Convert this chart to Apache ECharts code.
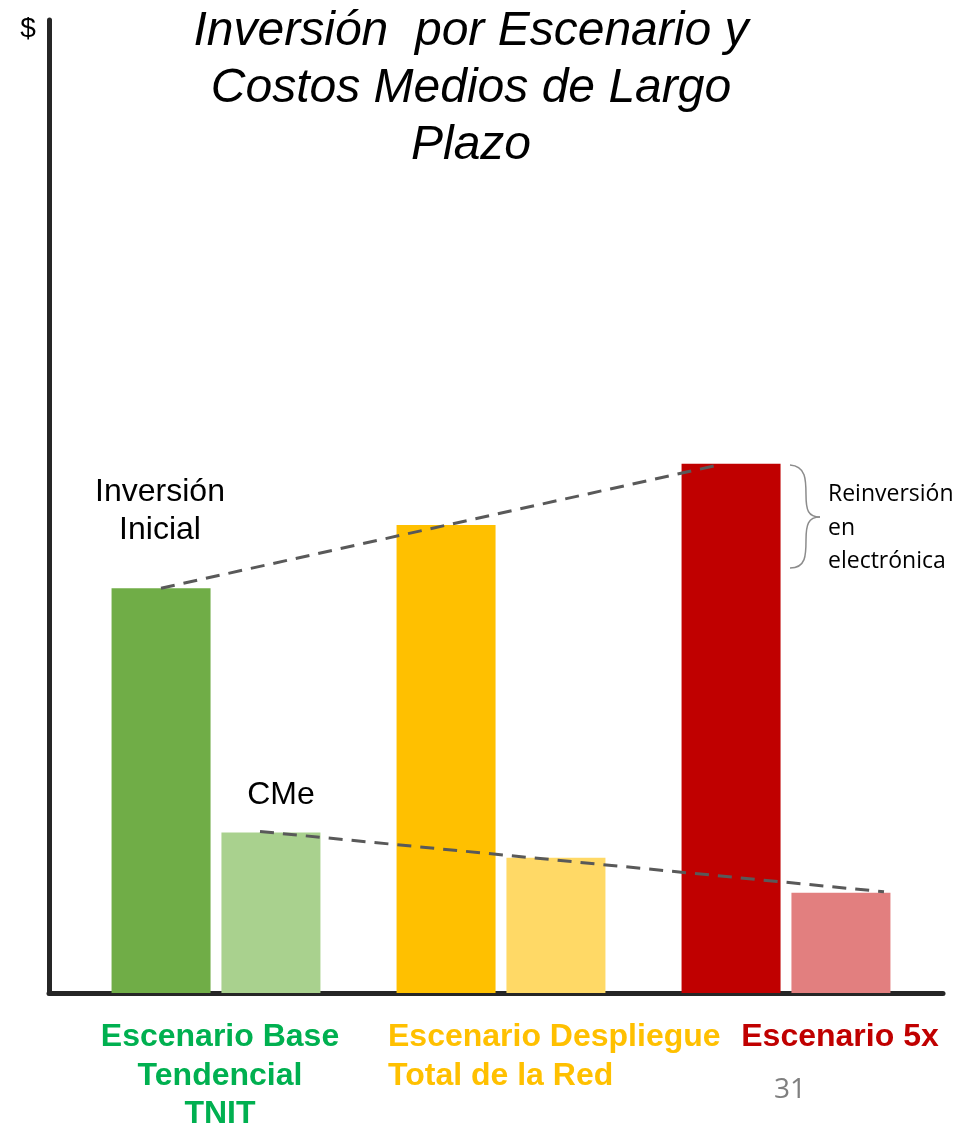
<!DOCTYPE html>
<html>
<head>
<meta charset="utf-8">
<script src="https://cdn.jsdelivr.net/npm/echarts@6/dist/echarts.min.js"></script>
<style>
html,body{margin:0;padding:0;background:#fff;}
#chart{width:963px;height:1125px;}
</style>
</head>
<body>
<div id="chart"></div>
<script>
// datos (unidades relativas, eje 0-10)
const scenarios=['Escenario Base\nTendencial\nTNIT','Escenario Despliegue\nTotal de la Red','Escenario 5x'];
const inversion=[4.16,4.81,5.44];
const cme=[1.65,1.39,1.03];
const darkColors=['#70AD47','#FFC000','#C00000'];
const lightColors=['#A9D18E','#FFD966','#E27F7F'];
const labelColors=['#00B050','#FFC000','#C00000'];
const yMax=10;

const chart=echarts.init(document.getElementById('chart'));
const FONT='"Liberation Sans", Arial, sans-serif';

chart.setOption({
    backgroundColor:'#fff',
    animation:false,
    grid:[
        {left:49,right:20,top:20,bottom:132},      // ejes dibujados
        {left:73.5,right:34.5,top:20,bottom:132}   // barras
    ],
    xAxis:[
        {gridIndex:0,type:'value',min:0,max:1,axisLine:{show:true,lineStyle:{color:'#262626',width:5}},axisTick:{show:false},axisLabel:{show:false},splitLine:{show:false}},
        {gridIndex:1,type:'category',data:scenarios,axisLine:{show:false},axisTick:{show:false},axisLabel:{show:false}}
    ],
    yAxis:[
        {gridIndex:0,type:'value',min:0,max:yMax,axisLine:{show:true,lineStyle:{color:'#262626',width:5}},axisTick:{show:false},axisLabel:{show:false},splitLine:{show:false}},
        {gridIndex:1,type:'value',min:0,max:yMax,show:false,splitLine:{show:false}}
    ],
    series:[
        {name:'Inversión Inicial',type:'bar',xAxisIndex:1,yAxisIndex:1,barWidth:99,barGap:'11%',
         data:inversion.map((v,i)=>({value:v,itemStyle:{color:darkColors[i]}}))},
        {name:'CMe',type:'bar',xAxisIndex:1,yAxisIndex:1,barWidth:99,barGap:'11%',
         data:cme.map((v,i)=>({value:v,itemStyle:{color:lightColors[i]}}))}
    ]
});

// anotaciones y textos
const px=(i,v)=>chart.convertToPixel({xAxisIndex:1,yAxisIndex:1},[i,v]);
const off=55; // mitad de (ancho barra + separación)
const g=[];

const a0=px(0,inversion[0]),a2=px(2,inversion[2]);
g.push({type:'line',z:10,shape:{x1:a0[0]-off,y1:a0[1],x2:a2[0]-off-11,y2:a2[1]+1},
    style:{stroke:'#595959',lineWidth:3,lineDash:[14,9]}});
const b0=px(0,cme[0]),b2=px(2,cme[2]);
g.push({type:'line',z:10,shape:{x1:b0[0]+off-11,y1:b0[1]-1,x2:b2[0]+off+43,y2:b2[1]-1},
    style:{stroke:'#595959',lineWidth:3,lineDash:[14,9]}});

// título
g.push({type:'text',style:{text:'Inversión  por Escenario y\nCostos Medios de Largo\nPlazo',
    font:'italic 48px '+FONT,fill:'#000',align:'center',lineHeight:57,x:471,y:3}});
g.push({type:'text',style:{text:'$',x:28,y:29,font:'28px '+FONT,fill:'#000',align:'center',verticalAlign:'middle'}});

g.push({type:'text',style:{text:'Inversión\nInicial',x:160,y:473,font:'32px '+FONT,fill:'#000',align:'center',lineHeight:38}});
g.push({type:'text',style:{text:'CMe',x:281,y:795,font:'32px '+FONT,fill:'#000',align:'center',verticalAlign:'middle'}});

// llave y texto de reinversión
const brace=[
    [790,465,806,466,806,480,806,495],
    [806,495,806,510,808,517,820,517],
    [820,517,808,517,806,525,806,540],
    [806,540,806,555,806,568,790,568]
];
brace.forEach(c=>{
    g.push({type:'bezierCurve',shape:{x1:c[0],y1:c[1],cpx1:c[2],cpy1:c[3],cpx2:c[4],cpy2:c[5],x2:c[6],y2:c[7]},
        style:{stroke:'#8c8c8c',lineWidth:1.5,fill:null}});
});
g.push({type:'text',style:{text:'Reinversión\nen\nelectrónica',x:828,y:478,font:'23px "Open Sans", sans-serif',fill:'#000',lineHeight:33.5}});

// etiquetas de escenario
const labelPos=[[220,'center'],[388,'left'],[840,'center']];
scenarios.forEach((s,i)=>{
    g.push({type:'text',style:{text:s,x:labelPos[i][0],y:1018,font:'bold 32px '+FONT,fill:labelColors[i],align:labelPos[i][1],lineHeight:38.5}});
});

g.push({type:'text',style:{text:'31',x:790,y:1090,font:'28px "Open Sans", sans-serif',fill:'#7f7f7f',align:'center',verticalAlign:'middle'}});

chart.setOption({graphic:g});
</script>
</body>
</html>
